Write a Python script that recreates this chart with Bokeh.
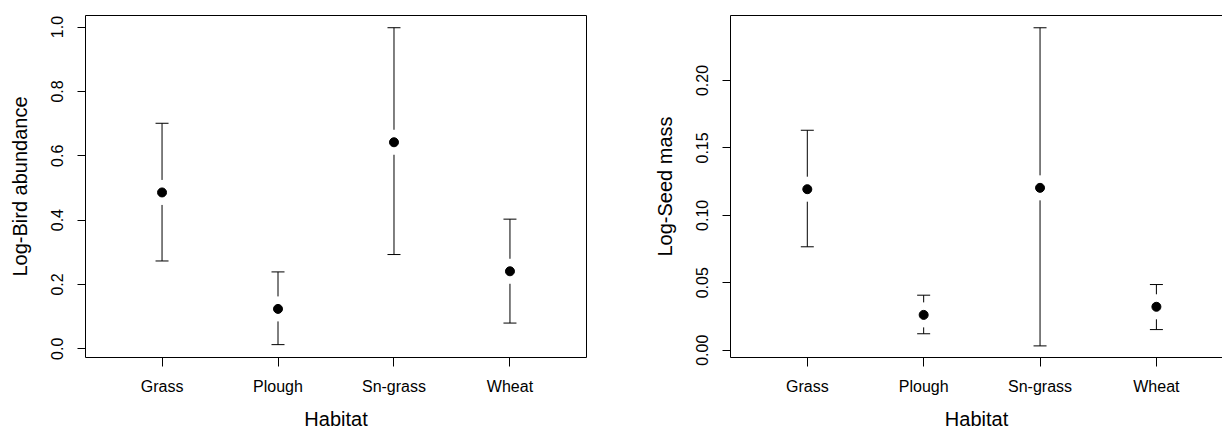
from bokeh.plotting import figure
from bokeh.layouts import row
from bokeh.models import Range1d, FixedTicker, LinearAxis
from bokeh.embed import file_html
from bokeh.resources import INLINE

# ---------------- data ----------------
habitats = ["Grass", "Plough", "Sn-grass", "Wheat"]
x_pos = [1, 2, 3, 4]

bird_mean = [0.486, 0.124, 0.642, 0.241]
bird_lower = [0.273, 0.013, 0.293, 0.080]
bird_upper = [0.701, 0.239, 0.998, 0.403]

seed_mean = [0.1194, 0.0262, 0.1204, 0.0322]
seed_lower = [0.0767, 0.0122, 0.0032, 0.0153]
seed_upper = [0.1631, 0.0408, 0.2391, 0.0487]

bird_ticks = [0.0, 0.2, 0.4, 0.6, 0.8, 1.0]
bird_tick_labels = ["0.0", "0.2", "0.4", "0.6", "0.8", "1.0"]
seed_ticks = [0.0, 0.05, 0.10, 0.15, 0.20]
seed_tick_labels = ["0.00", "0.05", "0.10", "0.15", "0.20"]

x_title = "Habitat"

FONT = "Liberation Sans"
H = 433
TOP = 15
BOTTOM = 76
GAP_PX = 12.5


def make_panel(width, left_border, right_border, xr, yr, mean, lower, upper,
               yticks, ytick_labels, ylabel, right_edge):
    p = figure(width=width, height=H, x_range=Range1d(*xr), y_range=Range1d(*yr),
               output_backend="svg", toolbar_location=None,
               min_border_left=left_border, min_border_right=right_border,
               min_border_top=TOP, min_border_bottom=BOTTOM)
    p.outline_line_color = None
    p.xgrid.visible = False
    p.ygrid.visible = False
    p.background_fill_color = "white"
    p.border_fill_color = "white"

    xa = p.xaxis[0]
    xa.ticker = FixedTicker(ticks=x_pos)
    xa.major_label_overrides = {x: h for x, h in zip(x_pos, habitats)}
    xa.axis_label = x_title
    xa.major_tick_out = 9
    xa.major_tick_in = 0
    xa.minor_tick_out = 0
    xa.minor_tick_in = 0
    xa.major_label_standoff = 11
    xa.axis_label_standoff = 10

    ya = p.yaxis[0]
    ya.ticker = FixedTicker(ticks=yticks)
    ya.major_label_overrides = {t: l for t, l in zip(yticks, ytick_labels)}
    ya.axis_label = ylabel
    ya.major_label_orientation = "vertical"
    ya.major_tick_out = 8
    ya.major_tick_in = 0
    ya.minor_tick_out = 0
    ya.minor_tick_in = 0
    ya.major_label_standoff = 14
    ya.axis_label_standoff = 18

    for a in (xa, ya):
        a.axis_line_color = "black"
        a.axis_line_width = 1
        a.major_tick_line_color = "black"
        a.major_label_text_font = FONT
        a.major_label_text_font_size = "16px"
        a.major_label_text_color = "black"
        a.axis_label_text_font = FONT
        a.axis_label_text_font_size = "20px"
        a.axis_label_text_font_style = "normal"
        a.axis_label_text_color = "black"

    edges = ["above"] + (["right"] if right_edge else [])
    for loc in edges:
        ax = LinearAxis(ticker=FixedTicker(ticks=[]), major_tick_out=0, major_tick_in=0,
                        minor_tick_out=0, minor_tick_in=0, major_label_standoff=0,
                        axis_line_color="black", axis_line_width=1,
                        major_label_text_font_size="0px")
        p.add_layout(ax, loc)

    span = yr[1] - yr[0]
    frame_h = H - TOP - BOTTOM
    gap = GAP_PX * span / frame_h
    up0 = [m + gap for m in mean]
    lo1 = [m - gap for m in mean]
    p.segment(x0=x_pos, y0=up0, x1=x_pos, y1=upper, line_color="black", line_width=1)
    p.segment(x0=x_pos, y0=lower, x1=x_pos, y1=lo1, line_color="black", line_width=1)
    p.scatter(x=x_pos, y=upper, marker="dash", size=13, line_color="black", line_width=1)
    p.scatter(x=x_pos, y=lower, marker="dash", size=13, line_color="black", line_width=1)
    p.scatter(x=x_pos, y=mean, marker="circle", size=9, fill_color="black", line_color="black")
    return p


p1 = make_panel(650, 85, 64, (0.34, 4.66), (-0.027, 1.036),
                bird_mean, bird_lower, bird_upper, bird_ticks, bird_tick_labels,
                "Log-Bird abundance", True)
p2 = make_panel(572, 80, 0, (0.34, 0.34 + 4.32 * 492 / 502.7), (-0.0054, 0.2482),
                seed_mean, seed_lower, seed_upper, seed_ticks, seed_tick_labels,
                "Log-Seed mass", False)

layout = row(p1, p2)
open("out.html", "w").write(file_html(layout, INLINE))
